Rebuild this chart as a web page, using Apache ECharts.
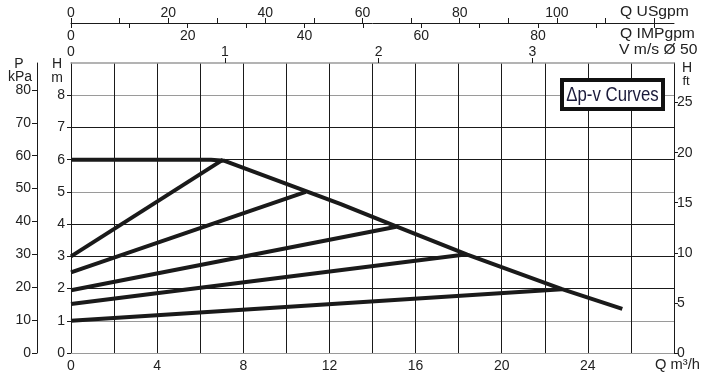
<!DOCTYPE html>
<html>
<head>
<meta charset="utf-8">
<script src="https://cdn.jsdelivr.net/npm/echarts@6/dist/echarts.min.js"></script>
<style>
html,body{margin:0;padding:0;background:#fff;}
#c{width:712px;height:375px;}
</style>
</head>
<body>
<div id="c"></div>
<script>
// ---- data ----
const flowMax = 28;                       // m3/h (bottom axis extent)
const headMax = 9;                        // m (left axis extent)
const flowLabels = [0, 4, 8, 12, 16, 20, 24];
const headLabels = [0, 1, 2, 3, 4, 5, 6, 7, 8];
const kPaLabels = [0, 10, 20, 30, 40, 50, 60, 70, 80];
const ftLabels = [0, 5, 10, 15, 20, 25];
const usTicks = [0, 10, 20, 30, 40, 50, 60, 70, 80, 90, 100, 110, 120];
const usLabels = [0, 20, 40, 60, 80, 100];
const impTicks = [0, 10, 20, 30, 40, 50, 60, 70, 80, 90, 100];
const impLabels = [0, 20, 40, 60, 80];
const velTicks = [1, 2, 3];
const velLabels = [0, 1, 2, 3];

// Secondary axis extents
const kPaMax = 88.2;
const ftMax = 28.95;
const usMax = 124.1;
const impMax = 103.3;
const velMax = 3.92;

// curves [Q m3/h, H m]
const maxCurve = [[0, 6.0], [6.5, 6.0], [7.1, 5.97], [12.5, 4.63], [15.1, 3.93], [18.4, 3.05], [22.8, 1.98], [25.6, 1.37]];
const dpv1 = [[0, 3.0], [7.06, 6.0]];
const dpv2 = [[0, 2.5], [10.9, 5.0]];
const dpv3 = [[0, 1.95], [15.1, 3.92]];
const dpv4 = [[0, 1.52], [18.3, 3.06]];
const dpv5 = [[0, 1.0], [22.8, 1.98]];
const curves = [maxCurve, dpv1, dpv2, dpv3, dpv4, dpv5];

const FONT = "'Liberation Sans', Arial, Helvetica, sans-serif";
const TXT = '#222';
const lbl = (extra) => Object.assign({ color: TXT, fontSize: 14, fontFamily: FONT }, extra || {});

const gridColors = ['#9a9a9a', '#9a9a9a', '#1a1a1a', '#1a1a1a', '#1a1a1a', '#9a9a9a', '#1a1a1a', '#1a1a1a', '#9a9a9a', '#9a9a9a'];

const chart = echarts.init(document.getElementById('c'), null, { renderer: 'canvas' });

const nameText = (text, x, y, extra) => Object.assign({
  type: 'text', x: x, y: y, scaleX: 1.12,
  style: { text: text, fill: TXT, font: '14px ' + FONT, align: 'left', verticalAlign: 'middle' }
}, extra || {});
const cText = (text, x, y, size) => ({
  type: 'text', x: x, y: y,
  style: { text: text, fill: TXT, font: (size || 14) + 'px ' + FONT, align: 'center', verticalAlign: 'middle' }
});

const option = {
  animation: false,
  backgroundColor: '#fff',
  grid: { left: 71, right: 38, top: 63, bottom: 22, containLabel: false },
  xAxis: [
    { // Q m3/h bottom
      type: 'value', position: 'bottom', min: 0, max: flowMax, interval: 2,
      axisLine: { show: true, onZero: false, lineStyle: { color: '#9a9a9a', width: 1 } },
      axisTick: { show: false },
      axisLabel: lbl({ customValues: flowLabels, margin: 6 }),
      splitLine: { show: true, lineStyle: { color: '#1a1a1a', width: 1 } }
    },
    { // V m/s
      type: 'value', position: 'top', offset: 0, min: 0, max: velMax,
      axisLine: { show: true, onZero: false, lineStyle: { color: '#9a9a9a', width: 1.5 } },
      axisTick: { show: true, customValues: velTicks, length: 5, lineStyle: { color: '#1a1a1a' } },
      axisLabel: lbl({ customValues: velLabels, margin: 4 }),
      splitLine: { show: false }
    },
    { // US gpm
      type: 'value', position: 'top', offset: 40, min: 0, max: usMax,
      axisLine: { show: true, onZero: false, lineStyle: { color: '#1a1a1a', width: 1 } },
      axisTick: { show: true, customValues: usTicks, length: 5, lineStyle: { color: '#1a1a1a' } },
      axisLabel: lbl({ customValues: usLabels, margin: 3 }),
      splitLine: { show: false }
    },
    { // IMP gpm
      type: 'value', position: 'top', offset: 40, min: 0, max: impMax,
      axisLine: { show: false, onZero: false },
      axisTick: { show: true, inside: true, customValues: impTicks, length: 5, lineStyle: { color: '#1a1a1a' } },
      axisLabel: lbl({ inside: true, customValues: impLabels, margin: 6 }),
      splitLine: { show: false }
    }
  ],
  yAxis: [
    { // H m
      type: 'value', position: 'left', offset: 0, min: 0, max: headMax, interval: 1,
      axisLine: { show: true, onZero: false, lineStyle: { color: '#1a1a1a', width: 1 } },
      axisTick: { show: true, customValues: headLabels, length: 4, lineStyle: { color: '#1a1a1a' } },
      axisLabel: lbl({ customValues: headLabels, margin: 6 }),
      splitLine: { show: true, lineStyle: { color: gridColors, width: 1 } }
    },
    { // P kPa
      type: 'value', position: 'left', offset: 34, min: 0, max: kPaMax,
      axisLine: { show: true, onZero: false, lineStyle: { color: '#1a1a1a', width: 1 } },
      axisTick: { show: true, customValues: kPaLabels, length: 5, lineStyle: { color: '#1a1a1a' } },
      axisLabel: lbl({ customValues: kPaLabels, margin: 6 }),
      splitLine: { show: false }
    },
    { // H ft
      type: 'value', position: 'right', offset: 0, min: 0, max: ftMax,
      axisLine: { show: true, onZero: false, lineStyle: { color: '#1a1a1a', width: 1 } },
      axisTick: { show: true, customValues: ftLabels, length: 4, lineStyle: { color: '#1a1a1a' } },
      axisLabel: lbl({ customValues: ftLabels, margin: 3 }),
      splitLine: { show: false }
    }
  ],
  series: curves.map((d) => ({
    type: 'line', xAxisIndex: 0, yAxisIndex: 0, data: d,
    showSymbol: false, symbol: 'none', silent: true, z: 5,
    lineStyle: { color: '#1a1a1a', width: 4, cap: 'butt', join: 'round' }
  })),
  graphic: [
    nameText('Q USgpm', 620, 12),
    nameText('Q IMPgpm', 620, 34),
    nameText('V m/s Ø 50', 619, 50),
    cText('P', 19, 64),
    cText('kPa', 20, 77),
    cText('H', 57, 64),
    cText('m', 57, 78),
    cText('H', 687, 68),
    cText('ft', 686, 81, 13),
    nameText('Q m³/h', 655, 365, { scaleX: 1.05 }),
    { type: 'rect', z: 100, shape: { x: 562, y: 80, width: 101, height: 29 }, style: { fill: '#fff', stroke: '#111', lineWidth: 4 } },
    { type: 'text', z: 101, x: 612.5, y: 95, scaleX: 0.84, style: { text: 'Δp-v Curves', fill: '#1a1a3a', font: '20px ' + FONT, align: 'center', verticalAlign: 'middle' } }
  ]
};
chart.setOption(option);
</script>
</body>
</html>
